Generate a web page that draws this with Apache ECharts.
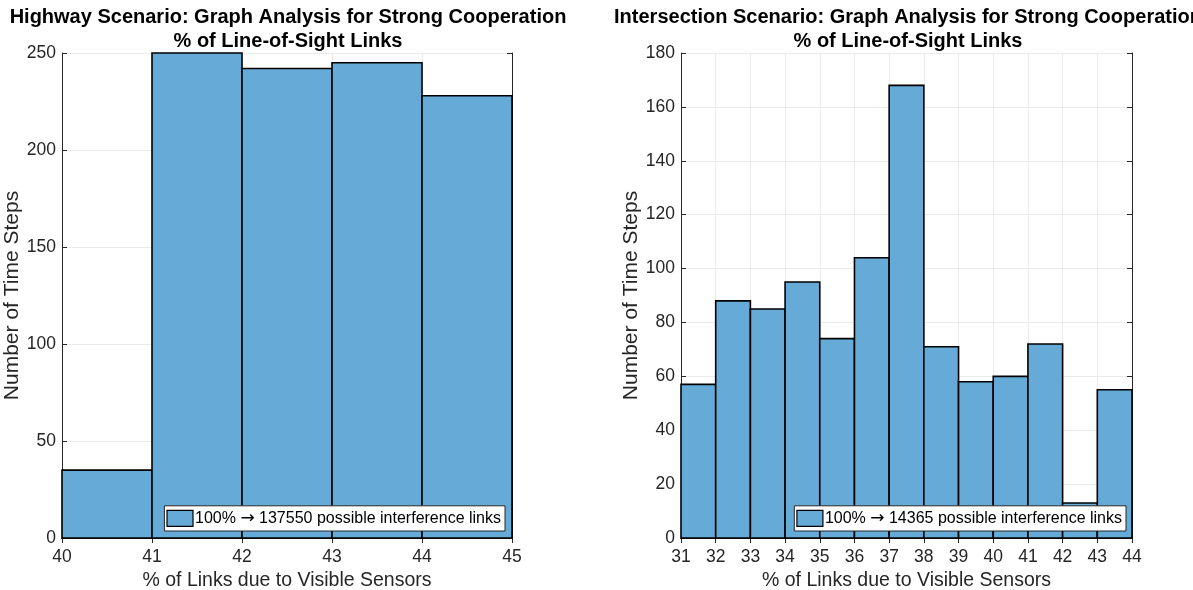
<!DOCTYPE html>
<html>
<head>
<meta charset="utf-8">
<script src="https://cdn.jsdelivr.net/npm/echarts@6/dist/echarts.min.js"></script>
<style>
  html, body { margin: 0; padding: 0; background: #fff; }
  #chart { width: 1193px; height: 590px; }
</style>
</head>
<body>
<div id="chart"></div>
<script>
// Highway scenario histogram: bin edges and counts
const highwayEdges = [40, 41, 42, 43, 44, 45];
const highwayCounts = [35, 250, 242, 245, 228];

// Intersection scenario histogram: bin edges and counts
const intersectionEdges = [31, 32, 33, 34, 35, 36, 37, 38, 39, 40, 41, 42, 43, 44];
const intersectionCounts = [57, 88, 85, 95, 74, 104, 168, 71, 58, 60, 72, 13, 55];

const highwayLegend = '100% \u2192 137550 possible interference links';
const intersectionLegend = '100% \u2192 14365 possible interference links';

const highwayTitle = 'Highway Scenario: Graph Analysis for Strong Cooperation\n% of Line-of-Sight Links';
const intersectionTitle = 'Intersection Scenario: Graph Analysis for Strong Cooperation\n% of Line-of-Sight Links';

const xLabel = '% of Links due to Visible Sensors';
const yLabel = 'Number of Time Steps';

const FACE = '#66aad7';
const AXIS = '#262626';
const GRID = '#ebebeb';
const FONT = 'Liberation Sans, Arial, sans-serif';

function bins(edges, counts) {
  return counts.map((c, i) => [edges[i], edges[i + 1], c]);
}

function renderBin(params, api) {
  const p0 = api.coord([api.value(0), api.value(2)]);
  const p1 = api.coord([api.value(1), 0]);
  return {
    type: 'rect',
    shape: { x: p0[0], y: p0[1], width: p1[0] - p0[0], height: p1[1] - p0[1] },
    style: { fill: FACE, stroke: '#000', lineWidth: 1.6 }
  };
}

function xAxes(gridIndex, min, max) {
  const common = {
    type: 'value', gridIndex, min, max, interval: 1,
    axisLine: { show: true, lineStyle: { color: AXIS, width: 1 } },
    axisTick: { show: true, inside: true, length: 5, lineStyle: { color: AXIS } }
  };
  return [
    Object.assign({}, common, {
      position: 'bottom',
      name: xLabel, nameLocation: 'middle', nameGap: 32,
      nameTextStyle: { fontSize: 19.5, color: AXIS, fontFamily: FONT },
      axisLabel: { fontSize: 17.5, color: AXIS, fontFamily: FONT, margin: 10 },
      splitLine: { show: true, lineStyle: { color: GRID } }
    }),
    Object.assign({}, common, {
      position: 'top',
      axisLabel: { show: false },
      splitLine: { show: false }
    })
  ];
}

function yAxes(gridIndex, max, interval) {
  const common = {
    type: 'value', gridIndex, min: 0, max, interval,
    axisLine: { show: true, lineStyle: { color: AXIS, width: 1 } },
    axisTick: { show: true, inside: true, length: 5, lineStyle: { color: AXIS } }
  };
  return [
    Object.assign({}, common, {
      position: 'left',
      name: yLabel, nameLocation: 'middle', nameGap: 32,
      nameTextStyle: { fontSize: 21, color: AXIS, fontFamily: FONT },
      axisLabel: { fontSize: 17.5, color: AXIS, fontFamily: FONT, margin: 6 },
      splitLine: { show: true, lineStyle: { color: GRID } }
    }),
    Object.assign({}, common, {
      position: 'right',
      axisLabel: { show: false },
      splitLine: { show: false }
    })
  ];
}

// The arrow glyph is drawn in DejaVu Sans, which has a full-width arrow
function legendText(name) {
  const parts = name.split('\u2192');
  return '{t|' + parts[0] + '}{arr|\u2192}{t|' + parts[1] + '}';
}

function legendFor(name, right) {
  return {
    data: [name],
    right, bottom: 59,
    orient: 'horizontal',
    backgroundColor: '#fff',
    borderColor: AXIS, borderWidth: 1, borderRadius: 0,
    padding: [4, 4, 4, 2],
    icon: 'rect',
    itemWidth: 26, itemHeight: 16, itemGap: 2,
    itemStyle: { color: FACE, borderColor: '#000', borderWidth: 1.2 },
    formatter: legendText,
    textStyle: {
      fontSize: 16, color: '#000', fontFamily: FONT, padding: [0, 0, 0, -3],
      rich: {
        t: { fontSize: 16, color: '#000', fontFamily: FONT },
        arr: { fontSize: 17, color: '#000', fontFamily: 'DejaVu Sans' }
      }
    },
    selectedMode: false
  };
}

const chart = echarts.init(document.getElementById('chart'), null, { renderer: 'canvas' });

chart.setOption({
  animation: false,
  backgroundColor: '#fff',
  title: [
    {
      text: highwayTitle, left: 283, top: 0, textAlign: 'center',
      textStyle: { fontSize: 20, fontWeight: 'bold', color: '#000', fontFamily: FONT, lineHeight: 24 }
    },
    {
      text: intersectionTitle, left: 903, top: 0, textAlign: 'center',
      textStyle: { fontSize: 20, fontWeight: 'bold', color: '#000', fontFamily: FONT, lineHeight: 24 }
    }
  ],
  grid: [
    { left: 62, width: 450, top: 53, height: 485, outerBoundsMode: 'none', containLabel: false },
    { left: 681, width: 451, top: 53, height: 485, outerBoundsMode: 'none', containLabel: false }
  ],
  xAxis: [
    ...xAxes(0, highwayEdges[0], highwayEdges[highwayEdges.length - 1]),
    ...xAxes(1, intersectionEdges[0], intersectionEdges[intersectionEdges.length - 1])
  ],
  yAxis: [
    ...yAxes(0, 250, 50),
    ...yAxes(1, 180, 20)
  ],
  legend: [
    legendFor(highwayLegend, 688),
    legendFor(intersectionLegend, 67)
  ],
  series: [
    {
      name: highwayLegend, type: 'custom', xAxisIndex: 0, yAxisIndex: 0,
      itemStyle: { color: FACE },
      renderItem: renderBin, encode: { x: [0, 1], y: 2 },
      data: bins(highwayEdges, highwayCounts)
    },
    {
      name: intersectionLegend, type: 'custom', xAxisIndex: 2, yAxisIndex: 2,
      itemStyle: { color: FACE },
      renderItem: renderBin, encode: { x: [0, 1], y: 2 },
      data: bins(intersectionEdges, intersectionCounts)
    }
  ]
});
</script>
</body>
</html>
